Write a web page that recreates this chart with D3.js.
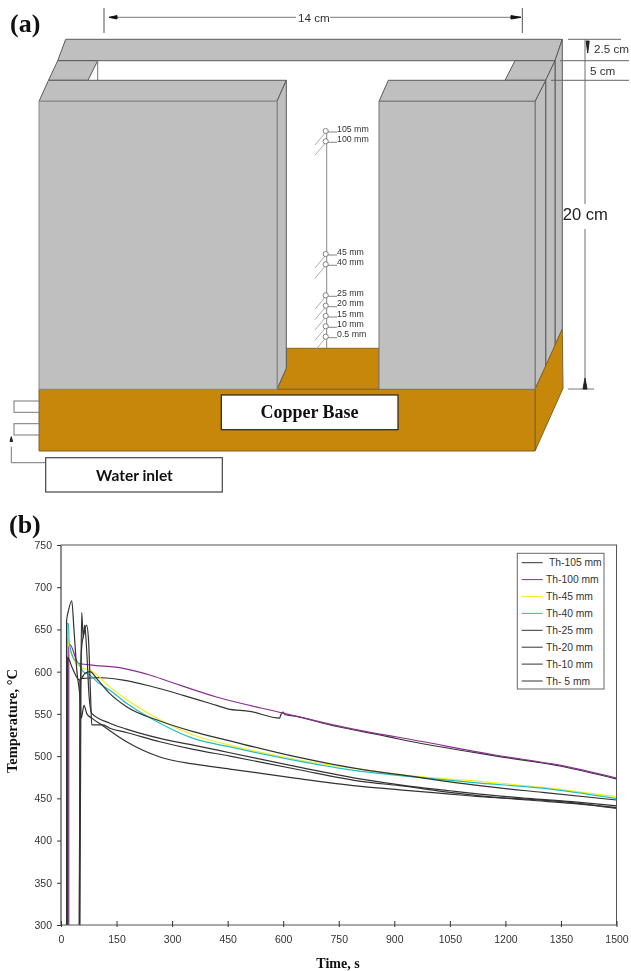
<!DOCTYPE html>
<html>
<head>
<meta charset="utf-8">
<script src="https://cdn.jsdelivr.net/npm/d3@7/dist/d3.min.js"></script>
<style>
body { margin: 0; background: #fff; }
svg { display: block; filter: blur(0.35px); }
</style>
</head>
<body>
<div id="my_dataviz"></div>
<script>
// values: time in s, temperature in C
var th105Time = [50, 51, 54, 60, 100, 123, 168, 240, 330, 420, 450, 510, 591, 592, 600, 605, 623, 735, 861, 915, 1176, 1350, 1500];
var th105Temp = [300, 590, 592, 592, 593, 592.5, 590, 583, 572, 560, 556, 553, 545, 547, 552, 549, 548, 536, 525, 520, 500, 488, 473];
var th100Time = [21, 21, 24, 47, 78, 168, 240, 294, 420, 600, 735, 861, 915, 1176, 1350, 1500];
var th100Temp = [300, 630, 632, 610, 608, 604, 596, 588, 570, 551, 537, 526, 522, 501, 489, 474];
var th45Time = [17, 17, 22, 40, 60, 78, 132, 177, 267, 357, 456, 636, 816, 915, 1131, 1300, 1500];
var th45Temp = [300, 640, 630, 610, 604, 602, 582, 567, 543, 525, 513, 496, 484, 478, 470, 463, 452];
var th40Time = [16, 16, 20, 22, 35, 47, 60, 78, 100, 132, 177, 267, 357, 456, 636, 816, 915, 1131, 1300, 1500];
var th40Temp = [300, 657, 657, 635, 615, 610, 600, 596, 587, 578, 562.6, 539, 521, 511, 494.6, 481.6, 477, 468, 462, 449.6];
var th25Time = [18, 18, 30, 50, 65, 78, 100, 132, 177, 267, 357, 456, 636, 816, 915, 1131, 1300, 1500];
var th25Temp = [300, 617, 605, 590, 598, 600, 590, 574, 558.5, 541.6, 529, 518, 499, 484, 478, 465, 457, 448];
var th20Time = [51, 54, 56, 60, 64, 70, 76, 83, 132, 177, 267, 357, 456, 636, 816, 915, 1050, 1131, 1260, 1380, 1500];
var th20Temp = [300, 600, 670, 640, 655, 620, 570, 550.6, 539, 532, 521, 513, 504, 487.5, 472.5, 466, 459, 455, 450, 446, 441];
var th10Time = [49, 52, 56, 62, 69, 74, 80, 83, 113, 132, 177, 267, 357, 456, 636, 816, 915, 1050, 1131, 1260, 1380, 1500];
var th10Temp = [300, 570, 630, 645, 655, 640, 570, 537, 537, 533, 528, 517, 508, 500, 484.4, 469.7, 465, 457, 453, 448, 444, 439];
var th5Time = [15, 15, 20, 29, 35, 43, 51, 55, 62, 70, 83, 113, 177, 267, 357, 456, 636, 816, 915, 1050, 1131, 1260, 1380, 1500];
var th5Temp = [300, 660, 672, 684, 650, 600, 571, 545, 560, 550, 545, 536, 517, 499, 490.7, 484.7, 473.7, 463.8, 460, 455, 452, 449, 445, 438];

var seriesNames = ["Th-105 mm", "Th-100 mm", "Th-45 mm", "Th-40 mm", "Th-25 mm", "Th-20 mm", "Th-10 mm", "Th- 5 mm"];
var seriesTimes = [th105Time, th100Time, th45Time, th40Time, th25Time, th20Time, th10Time, th5Time];
var seriesTemps = [th105Temp, th100Temp, th45Temp, th40Temp, th25Temp, th20Temp, th10Temp, th5Temp];
var seriesColors = ["#333", "#8a2f92", "#f2ee1c", "#1fbfc4", "#333", "#333", "#333", "#333"];

var xTicks = [0, 150, 300, 450, 600, 750, 900, 1050, 1200, 1350, 1500];
var yTicks = [300, 350, 400, 450, 500, 550, 600, 650, 700, 750];

// thermocouple labels of the sketch
var probeLabels = ["105 mm", "100 mm", "45 mm", "40 mm", "25 mm", "20 mm", "15 mm", "10 mm", "0.5 mm"];
var probeY = [131, 141.3, 254, 264.3, 295.3, 305.7, 316, 326.3, 336.7];

var svg = d3.select("#my_dataviz")
  .append("svg")
    .attr("width", 631)
    .attr("height", 971);

var sans = "'Liberation Sans', Arial, sans-serif";
var serif = "'Liberation Serif', 'Times New Roman', serif";
var grey = "#bfbfbf";
var copper = "#c6870a";
var edge = "#5a5a5a";

function poly(g, pts, fill, stroke) {
  g.append("polygon")
    .attr("points", pts.map(function(p) { return p.join(","); }).join(" "))
    .attr("fill", fill)
    .attr("stroke", stroke || edge)
    .attr("stroke-width", 1);
}
function seg(g, x1, y1, x2, y2, color, w) {
  g.append("line")
    .attr("x1", x1).attr("y1", y1).attr("x2", x2).attr("y2", y2)
    .attr("stroke", color || "#555")
    .attr("stroke-width", w || 1);
}
function label(g, x, y, str, size, opts) {
  opts = opts || {};
  return g.append("text")
    .attr("x", x).attr("y", y)
    .attr("font-family", opts.family || sans)
    .attr("font-size", size)
    .attr("font-weight", opts.weight || "normal")
    .attr("text-anchor", opts.anchor || "start")
    .attr("fill", opts.fill || "#333")
    .text(str);
}

// ---- part (a), the sketch ----
var a = svg.append("g");
label(a, 10, 32, "(a)", 26, {family: serif, weight: "bold", fill: "#111"});

// back bar and the two connecting pieces
poly(a, [[65.7,39.3],[562.3,39.3],[555,60.7],[57.7,60.7]], grey);
poly(a, [[57.7,60.7],[97.7,60.7],[88,80.3],[48.5,80.3]], grey);
seg(a, 97.7, 60.7, 97.7, 80.3, "#777");
poly(a, [[515,60.7],[555,60.7],[545.7,80.3],[505,80.3]], grey);

// side faces on the right
poly(a, [[555,60.7],[562.3,39.3],[562.3,329],[555,346]], grey);
poly(a, [[545.7,80.3],[555,60.7],[555,346],[545.7,367]], grey);
poly(a, [[535,101.3],[545.7,80.3],[545.7,367],[535,389.3]], grey);

// copper
poly(a, [[286.3,348.3],[379,348.3],[379,389.3],[277,389.3],[286.3,368.3]], copper, "#8a6a20");
poly(a, [[535,389.3],[562.3,329],[563,388.3],[535,451]], copper, "#7d6325");
poly(a, [[39,389.3],[535,389.3],[535,451],[39,451]], copper, "#7d6325");

// left block
poly(a, [[48.5,80.3],[286.3,80.3],[277,101.3],[39,101.3]], grey);
poly(a, [[277,101.3],[286.3,80.3],[286.3,368.3],[277,389.3]], grey);
poly(a, [[39,101.3],[277,101.3],[277,389.3],[39,389.3]], grey, "#8a8a8a");

// right block
poly(a, [[388.3,80.3],[545.7,80.3],[535,101.3],[379,101.3]], grey);
poly(a, [[379,101.3],[535,101.3],[535,389.3],[379,389.3]], grey, "#777");

// copper base label
a.append("rect").attr("x", 221.3).attr("y", 395).attr("width", 176.7).attr("height", 34.7)
  .attr("fill", "#fff").attr("stroke", "#222").attr("stroke-width", 1.2);
label(a, 309.5, 418, "Copper Base", 18, {family: serif, weight: "bold", anchor: "middle", fill: "#111"});

// water pipes and inlet
a.append("rect").attr("x", 14).attr("y", 401).attr("width", 25).attr("height", 11.3)
  .attr("fill", "#fff").attr("stroke", "#777");
a.append("rect").attr("x", 14).attr("y", 423.7).attr("width", 25).attr("height", 11.3)
  .attr("fill", "#fff").attr("stroke", "#777");
seg(a, 45.7, 462.7, 11.3, 462.7, "#777");
seg(a, 11.3, 462.7, 11.3, 446.7, "#777");
poly(a, [[11.3,436.7],[12.6,441.5],[10,441.5]], "#222", "#222");
a.append("rect").attr("x", 45.7).attr("y", 457.7).attr("width", 176.6).attr("height", 34.3)
  .attr("fill", "#fff").attr("stroke", "#444").attr("stroke-width", 1.2);
label(a, 134.5, 481, "Water inlet", 15.5, {family: "Lato, sans-serif", weight: "bold", anchor: "middle", fill: "#111"});

// 14 cm dimension
seg(a, 104, 8, 104, 33, "#555");
seg(a, 522.3, 8, 522.3, 33, "#555");
seg(a, 110, 17.3, 296, 17.3, "#777");
seg(a, 330, 17.3, 521, 17.3, "#777");
poly(a, [[109,17.3],[117,15.6],[117,19]], "#111", "#111");
poly(a, [[521,17.3],[511,15.6],[511,19]], "#111", "#111");
label(a, 298, 21.5, "14 cm", 11.7);

// height dimensions
seg(a, 585, 39.3, 585, 204, "#888", 1.2);
seg(a, 585, 229, 585, 378, "#888", 1.2);
seg(a, 568, 39.3, 621, 39.3, "#666");
seg(a, 560, 60.7, 629, 60.7, "#666");
seg(a, 551, 80.3, 629, 80.3, "#666");
seg(a, 568, 389, 594, 389, "#777");
poly(a, [[587.7,53],[586.2,41],[589.2,41]], "#222", "#222");
poly(a, [[585,378],[583,389],[587,389]], "#222", "#222");
label(a, 594, 53, "2.5 cm", 11.7);
label(a, 590, 75, "5 cm", 11.7);
label(a, 562.7, 220, "20 cm", 16.6, {fill: "#222"});

// thermocouple tree
seg(a, 326.7, 131, 326.7, 348.3, "#888", 1);
probeY.forEach(function(py, i) {
  seg(a, 325, py + 2, 315, py + 14, "#999", 0.8);
  seg(a, 328, py + 1, 337, py + 1, "#666", 0.8);
  a.append("circle").attr("cx", 325.7).attr("cy", py).attr("r", 2.6)
    .attr("fill", "#fff").attr("stroke", "#666").attr("stroke-width", 0.8);
  label(a, 337, py + 0.6, probeLabels[i], 8.8);
});

// ---- part (b), the chart ----
var margin = {top: 545, left: 61};
var width = 555.5, height = 380;

label(svg, 9, 533, "(b)", 26, {family: serif, weight: "bold", fill: "#111"});

var x = d3.scaleLinear().domain([0, 1500]).range([0, width]);
var y = d3.scaleLinear().domain([300, 750]).range([height, 0]);

var chart = svg.append("g")
  .attr("transform", "translate(" + margin.left + "," + margin.top + ")");

var line = d3.line()
  .curve(d3.curveMonotoneX)
  .x(function(d) { return x(d[0]); })
  .y(function(d) { return y(d[1]); });

chart.selectAll("path.series")
  .data(seriesNames)
  .enter()
  .append("path")
    .attr("class", "series")
    .attr("fill", "none")
    .attr("stroke", function(d, i) { return seriesColors[i]; })
    .attr("stroke-width", 1.2)
    .attr("d", function(d, i) { return line(d3.zip(seriesTimes[i], seriesTemps[i])); });

// frame
chart.append("rect")
  .attr("width", width).attr("height", height)
  .attr("fill", "none").attr("stroke", "#555").attr("stroke-width", 1);
seg(chart, 0, 0, 0, height, "#888", 1.6);

var xAxis = chart.append("g")
  .attr("transform", "translate(0," + height + ")")
  .call(d3.axisBottom(x).tickValues(xTicks).tickSize(2).tickPadding(9).tickFormat(d3.format("d")));
xAxis.selectAll(".tick line").attr("y1", -4).attr("stroke", "#333");
var yAxis = chart.append("g")
  .call(d3.axisLeft(y).tickValues(yTicks).tickSize(4).tickPadding(5).tickFormat(d3.format("d")));
yAxis.selectAll(".tick line").attr("stroke", "#333");
chart.selectAll(".domain").remove();
chart.selectAll(".tick text")
  .attr("font-family", sans)
  .attr("font-size", 10.5)
  .attr("fill", "#333");

label(svg, 338, 968, "Time, s", 14, {family: serif, weight: "bold", anchor: "middle", fill: "#111"});
label(svg, 0, 0, "Temperature, \u00b0C", 14.5, {family: serif, weight: "bold", anchor: "middle", fill: "#111"})
  .attr("transform", "translate(17,721) rotate(-90)");

// legend
var legend = svg.append("g");
legend.append("rect").attr("x", 517.3).attr("y", 553.3).attr("width", 86.7).attr("height", 135.7)
  .attr("fill", "#fff").attr("stroke", "#666");
seriesNames.forEach(function(name, i) {
  var ly = 562.7 + i * 16.9;
  seg(legend, 521.7, ly, 542.7, ly, seriesColors[i], 1);
  label(legend, i == 0 ? 549 : 546, ly + 3.6, name, 10.3);
});
</script>
</body>
</html>
